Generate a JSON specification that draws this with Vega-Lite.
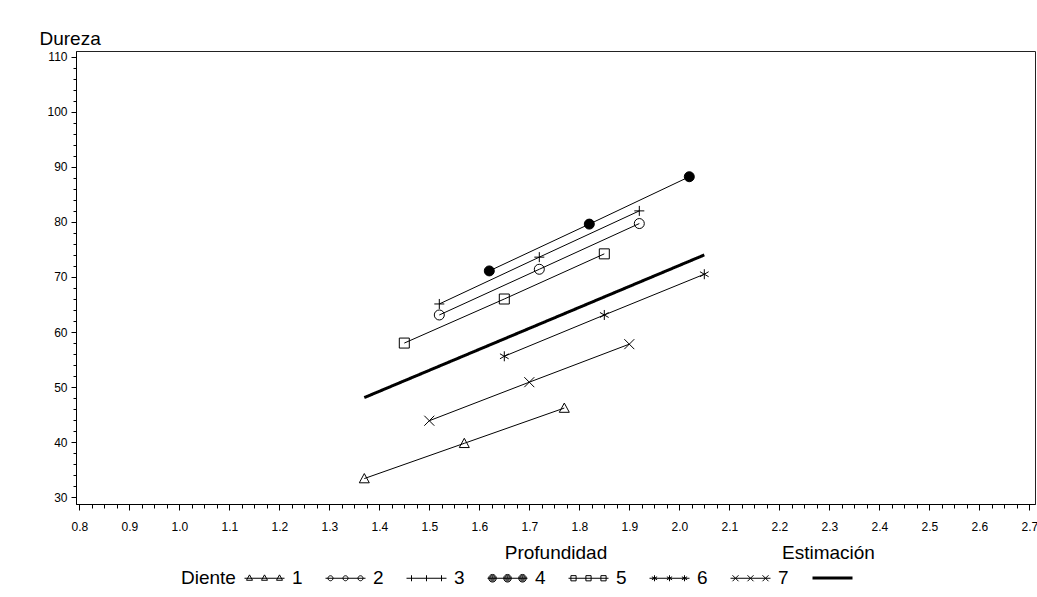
{
  "$schema": "https://vega.github.io/schema/vega-lite/v6.json",
  "width": 959,
  "height": 453,
  "autosize": {"type": "none"},
  "padding": {"left": 76, "top": 51, "right": 2, "bottom": 93},
  "background": "white",
  "datasets": {
    "dientes": [
      {"Diente": "1", "Profundidad": 1.37, "Dureza": 33.4},
      {"Diente": "1", "Profundidad": 1.57, "Dureza": 39.8},
      {"Diente": "1", "Profundidad": 1.77, "Dureza": 46.2},
      {"Diente": "2", "Profundidad": 1.52, "Dureza": 63.1},
      {"Diente": "2", "Profundidad": 1.72, "Dureza": 71.4},
      {"Diente": "2", "Profundidad": 1.92, "Dureza": 79.7},
      {"Diente": "3", "Profundidad": 1.52, "Dureza": 65.1},
      {"Diente": "3", "Profundidad": 1.72, "Dureza": 73.6},
      {"Diente": "3", "Profundidad": 1.92, "Dureza": 82.0},
      {"Diente": "4", "Profundidad": 1.62, "Dureza": 71.1},
      {"Diente": "4", "Profundidad": 1.82, "Dureza": 79.6},
      {"Diente": "4", "Profundidad": 2.02, "Dureza": 88.2},
      {"Diente": "5", "Profundidad": 1.45, "Dureza": 58.0},
      {"Diente": "5", "Profundidad": 1.65, "Dureza": 66.0},
      {"Diente": "5", "Profundidad": 1.85, "Dureza": 74.2},
      {"Diente": "6", "Profundidad": 1.65, "Dureza": 55.6},
      {"Diente": "6", "Profundidad": 1.85, "Dureza": 63.1},
      {"Diente": "6", "Profundidad": 2.05, "Dureza": 70.5},
      {"Diente": "7", "Profundidad": 1.50, "Dureza": 43.9},
      {"Diente": "7", "Profundidad": 1.70, "Dureza": 50.9},
      {"Diente": "7", "Profundidad": 1.90, "Dureza": 57.8}
    ],
    "estimacion": [
      {"serie": "Estimación", "Profundidad": 1.37, "Dureza": 48.1},
      {"serie": "Estimación", "Profundidad": 2.05, "Dureza": 74.0}
    ]
  },
  "encoding": {
    "x": {
      "field": "Profundidad",
      "type": "quantitative",
      "scale": {"domain": [0.7934, 2.7114], "nice": false, "zero": false},
      "axis": {
        "title": "Profundidad",
        "titleY": 54,
        "titleBaseline": "alphabetic",
        "values": [0.8,0.825,0.85,0.875,0.9,0.925,0.95,0.975,1,1.025,1.05,1.075,1.1,1.125,1.15,1.175,1.2,1.225,1.25,1.275,1.3,1.325,1.35,1.375,1.4,1.425,1.45,1.475,1.5,1.525,1.55,1.575,1.6,1.625,1.65,1.675,1.7,1.725,1.75,1.775,1.8,1.825,1.85,1.875,1.9,1.925,1.95,1.975,2,2.025,2.05,2.075,2.1,2.125,2.15,2.175,2.2,2.225,2.25,2.275,2.3,2.325,2.35,2.375,2.4,2.425,2.45,2.475,2.5,2.525,2.55,2.575,2.6,2.625,2.65,2.675,2.7],
        "labelExpr": "abs(datum.value*10 - round(datum.value*10)) < 0.01 ? format(datum.value, '.1f') : ''",
        "tickSize": {"condition": {"test": "abs(datum.value*10 - round(datum.value*10)) < 0.01", "value": 6}, "value": 4},
        "labelPadding": 11,
        "labelOverlap": false,
        "labelFlush": false
      }
    },
    "y": {
      "field": "Dureza",
      "type": "quantitative",
      "scale": {"domain": [28.78, 111.03], "nice": false, "zero": false},
      "axis": {
        "title": "Dureza",
        "titleAngle": 0,
        "titleAlign": "left",
        "titleBaseline": "alphabetic",
        "titleX": -37,
        "titleY": -6.5,
        "values": [30,32,34,36,38,40,42,44,46,48,50,52,54,56,58,60,62,64,66,68,70,72,74,76,78,80,82,84,86,88,90,92,94,96,98,100,102,104,106,108,110],
        "labelExpr": "datum.value % 10 === 0 ? datum.label : ''",
        "tickSize": {"condition": {"test": "datum.value % 10 === 0", "value": 5}, "value": 3},
        "labelPadding": 4,
        "labelOverlap": false
      }
    }
  },
  "layer": [
    {
      "data": {"name": "dientes"},
      "mark": {"type": "line", "color": "black", "strokeWidth": 1},
      "encoding": {"detail": {"field": "Diente", "type": "nominal"}}
    },
    {
      "data": {"name": "dientes"},
      "mark": {"type": "point", "size": 100, "strokeWidth": 1, "opacity": 1, "color": "black"},
      "encoding": {
        "shape": {
          "field": "Diente",
          "type": "nominal",
          "scale": {
            "domain": ["1", "2", "3", "4", "5", "6", "7"],
            "range": [
              "M0,-1L1,0.85L-1,0.85Z",
              "circle",
              "M-1,0L1,0M0,-1L0,1",
              "circle",
              "square",
              "M0,-1L0,1M-0.87,-0.5L0.87,0.5M-0.87,0.5L0.87,-0.5",
              "M-1,-1L1,1M-1,1L1,-1"
            ]
          },
          "legend": null
        },
        "fill": {"condition": {"test": "datum.Diente === '4'", "value": "black"}, "value": "transparent"}
      }
    },
    {
      "data": {"name": "dientes"},
      "transform": [{"filter": "datum.Diente === 'ninguno'"}],
      "mark": {"type": "point", "filled": false, "strokeWidth": 1, "opacity": 1, "color": "black"},
      "encoding": {
        "shape": {
          "field": "Diente",
          "type": "nominal",
          "scale": {
            "domain": ["1", "2", "3", "4", "5", "6", "7"],
            "range": [
              "M-1,0L1,0M-0.75,-0.17L-0.6,0.1L-0.9,0.1ZM0,-0.17L0.15,0.1L-0.15,0.1ZM0.75,-0.17L0.9,0.1L0.6,0.1Z",
              "M-1,0L1,0M-0.625,0A0.125,0.125,0,1,1,-0.875,0A0.125,0.125,0,1,1,-0.625,0ZM0.125,0A0.125,0.125,0,1,1,-0.125,0A0.125,0.125,0,1,1,0.125,0ZM0.875,0A0.125,0.125,0,1,1,0.625,0A0.125,0.125,0,1,1,0.875,0Z",
              "M-1,0L1,0M-0.75,-0.15L-0.75,0.15M0,-0.15L0,0.15M0.75,-0.15L0.75,0.15",
              "M-1,0L1,0M-0.56,0A0.19,0.19,0,1,1,-0.94,0A0.19,0.19,0,1,1,-0.56,0M-0.61,0A0.14,0.14,0,1,1,-0.89,0A0.14,0.14,0,1,1,-0.61,0M-0.66,0A0.09,0.09,0,1,1,-0.84,0A0.09,0.09,0,1,1,-0.66,0M-0.71,0A0.04,0.04,0,1,1,-0.79,0A0.04,0.04,0,1,1,-0.71,0M0.19,0A0.19,0.19,0,1,1,-0.19,0A0.19,0.19,0,1,1,0.19,0M0.14,0A0.14,0.14,0,1,1,-0.14,0A0.14,0.14,0,1,1,0.14,0M0.09,0A0.09,0.09,0,1,1,-0.09,0A0.09,0.09,0,1,1,0.09,0M0.04,0A0.04,0.04,0,1,1,-0.04,0A0.04,0.04,0,1,1,0.04,0M0.94,0A0.19,0.19,0,1,1,0.56,0A0.19,0.19,0,1,1,0.94,0M0.89,0A0.14,0.14,0,1,1,0.61,0A0.14,0.14,0,1,1,0.89,0M0.84,0A0.09,0.09,0,1,1,0.66,0A0.09,0.09,0,1,1,0.84,0M0.79,0A0.04,0.04,0,1,1,0.71,0A0.04,0.04,0,1,1,0.79,0",
              "M-1,0L1,0M-0.88,-0.13L-0.62,-0.13L-0.62,0.13L-0.88,0.13ZM-0.13,-0.13L0.13,-0.13L0.13,0.13L-0.13,0.13ZM0.62,-0.13L0.88,-0.13L0.88,0.13L0.62,0.13Z",
              "M-1,0L1,0M-0.75,-0.15L-0.75,0.15M-0.88,-0.075L-0.62,0.075M-0.88,0.075L-0.62,-0.075M0,-0.15L0,0.15M-0.13,-0.075L0.13,0.075M-0.13,0.075L0.13,-0.075M0.75,-0.15L0.75,0.15M0.62,-0.075L0.88,0.075M0.62,0.075L0.88,-0.075",
              "M-1,0L1,0M-0.9,-0.15L-0.6,0.15M-0.9,0.15L-0.6,-0.15M-0.15,-0.15L0.15,0.15M-0.15,0.15L0.15,-0.15M0.6,-0.15L0.9,0.15M0.6,0.15L0.9,-0.15"
            ]
          },
          "legend": {
            "title": "Diente",
            "orient": "none",
            "legendX": 105,
            "legendY": 506.5,
            "direction": "horizontal",
            "titleOrient": "left",
            "titleAnchor": "middle",
            "titleBaseline": "line-top",
            "titleLineHeight": 10.4,
            "titlePadding": 8,
            "padding": 0,
            "symbolSize": 1600,
            "symbolStrokeWidth": 1,
            "symbolStrokeColor": "black",
            "symbolFillColor": "transparent",
            "labelOffset": 7,
            "columnPadding": 20
          }
        }
      }
    },
    {
      "data": {"name": "estimacion"},
      "mark": {"type": "line", "color": "black", "strokeWidth": 3},
      "encoding": {
        "strokeDash": {
          "field": "serie",
          "type": "nominal",
          "scale": {"range": [[1, 0]]},
          "legend": {
            "title": "Estimación",
            "orient": "none",
            "legendX": 706,
            "legendY": 492.5,
            "direction": "vertical",
            "titleOrient": "top",
            "titleAnchor": "start",
            "titlePadding": -6,
            "padding": 0,
            "symbolType": "stroke",
            "symbolSize": 1600,
            "symbolStrokeWidth": 3,
            "symbolStrokeColor": "black",
            "symbolOffset": 29,
            "labelExpr": "''"
          }
        }
      }
    }
  ],
  "resolve": {"scale": {"shape": "independent"}, "legend": {"shape": "independent"}},
  "config": {
    "font": "Liberation Sans",
    "view": {"stroke": "#222", "strokeWidth": 1},
    "axis": {
      "grid": false,
      "domainColor": "black",
      "tickColor": "black",
      "labelColor": "black",
      "labelFont": "Liberation Sans",
      "labelFontSize": 12,
      "titleFont": "Liberation Sans",
      "titleFontSize": 19,
      "titleFontWeight": "normal",
      "titleColor": "black"
    },
    "legend": {
      "labelFont": "Liberation Sans",
      "labelFontSize": 19,
      "labelColor": "black",
      "titleFont": "Liberation Sans",
      "titleFontSize": 19,
      "titleFontWeight": "normal",
      "titleColor": "black",
      "labelLimit": 0
    }
  }
}
